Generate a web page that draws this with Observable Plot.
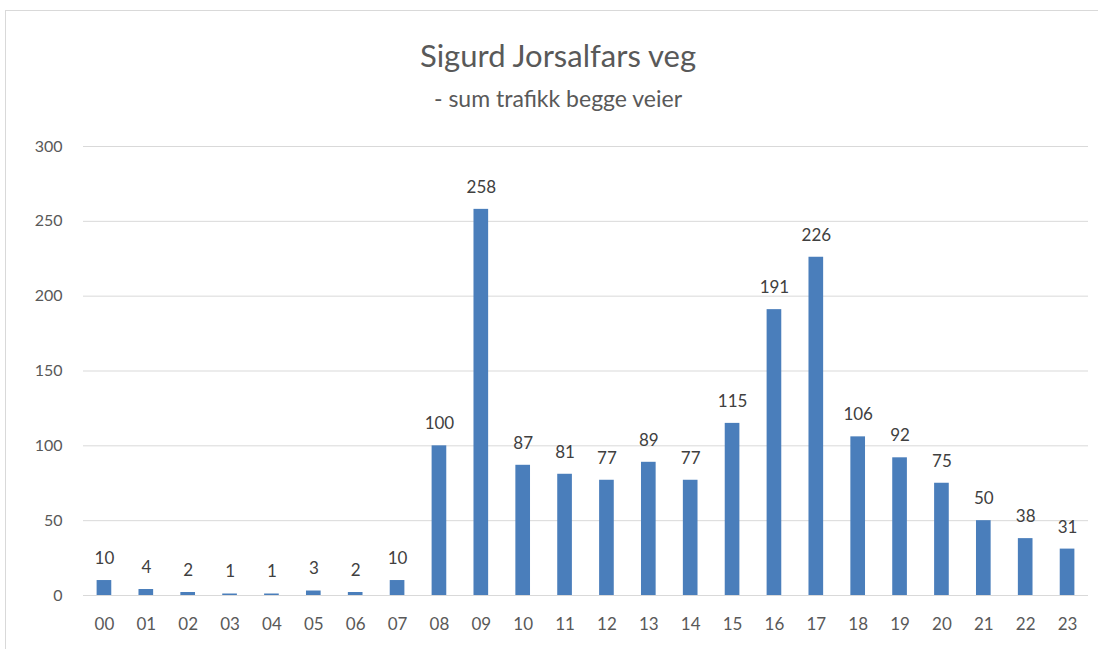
<!DOCTYPE html>
<html><head><meta charset="utf-8">
<script src="https://cdn.jsdelivr.net/npm/d3@7"></script>
<script src="https://cdn.jsdelivr.net/npm/@observablehq/plot@0.6"></script>
<style>
html,body{margin:0;padding:0;background:#fff;}
body{width:1098px;height:649px;position:relative;overflow:hidden;font-family:Lato,"Open Sans",sans-serif;}
#frame{position:absolute;left:5px;top:10px;width:1200px;height:700px;border-left:1px solid #d9d9d9;border-top:1px solid #d9d9d9;}
#title{position:absolute;left:0;width:1116px;top:36px;text-align:center;font-size:31px;color:#595959;}
#subtitle{position:absolute;left:0;width:1116px;top:84px;text-align:center;font-size:23px;color:#595959;}
#chart{position:absolute;left:0;top:120px;}
</style></head>
<body>
<div id="frame"></div>
<div id="title">Sigurd Jorsalfars veg</div>
<div id="subtitle">- sum trafikk begge veier</div>
<div id="chart"></div>
<script>
const hours = ["00","01","02","03","04","05","06","07","08","09","10","11","12","13","14","15","16","17","18","19","20","21","22","23"];
const traffic = [10,4,2,1,1,3,2,10,100,258,87,81,77,89,77,115,191,226,106,92,75,50,38,31];
const yTicks = [0,50,100,150,200,250,300];

const data = hours.map((h,i)=>({hour:h, value:traffic[i]}));

const chart = Plot.plot({
  width: 1098,
  height: 529,
  marginTop: 26,
  marginBottom: 54,
  marginLeft: 83,
  marginRight: 10,
  style: {fontFamily: "Lato, 'Open Sans', sans-serif", background: "transparent"},
  x: {domain: hours, paddingInner: 0.65, paddingOuter: 0.325, round: false, label: null},
  y: {domain: [0,300], ticks: yTicks, label: null},
  marks: [
    Plot.gridY(yTicks, {stroke: "#d9d9d9", strokeOpacity: 1}),
    Plot.barY(data, {x: "hour", y: "value", fill: "#4a7ebb"}),
    Plot.text(data, {x: "hour", y: "value", text: d => String(d.value), dy: -22, fontSize: 17, fill: "#404040"}),
    Plot.axisY(yTicks, {tickSize: 0, tickPadding: 21, fontSize: 16, color: "#595959", label: null}),
    Plot.axisX({tickSize: 0, tickPadding: 22, fontSize: 17, color: "#595959", label: null})
  ]
});
document.getElementById("chart").appendChild(chart);
</script>
</body></html>
